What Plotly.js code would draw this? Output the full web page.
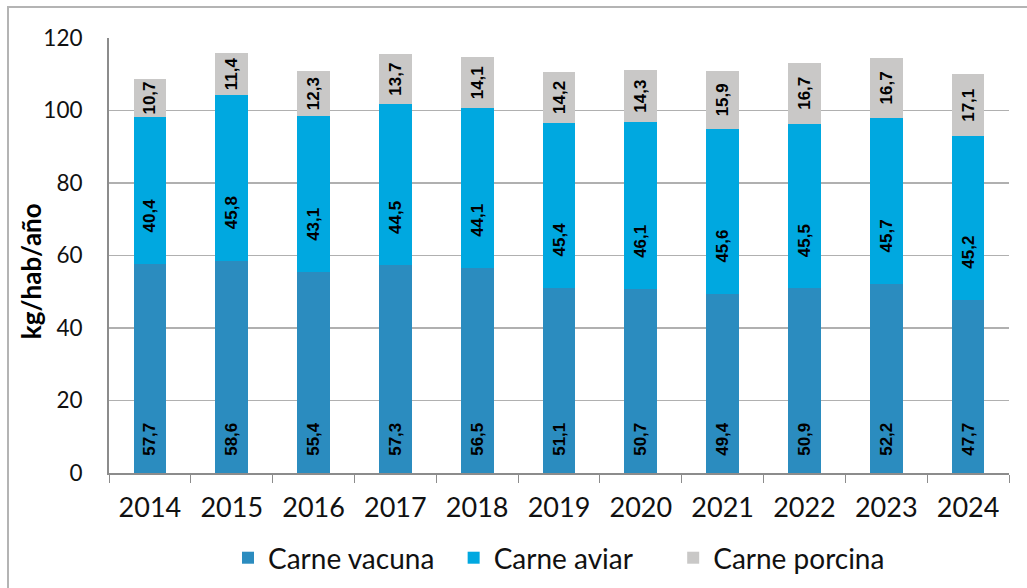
<!DOCTYPE html>
<html>
<head>
<meta charset="utf-8">
<script src="https://cdn.plot.ly/plotly-3.0.1.min.js"></script>
<style>
html,body{margin:0;padding:0;background:#fff;}
#wrap{position:relative;width:1027px;height:588px;overflow:hidden;}
#chart{position:absolute;left:0;top:0;width:1027px;height:588px;}
#frame{position:absolute;left:7px;top:6px;width:1040px;height:600px;border-left:2px solid #b4b4b4;border-top:2px solid #b4b4b4;pointer-events:none;}
</style>
</head>
<body>
<div id="wrap"><div id="chart"></div><div id="frame"></div></div>
<script>
const years = ['2014','2015','2016','2017','2018','2019','2020','2021','2022','2023','2024'];
const vacuna = [57.7, 58.6, 55.4, 57.3, 56.5, 51.1, 50.7, 49.4, 50.9, 52.2, 47.7];
const aviar  = [40.4, 45.8, 43.1, 44.5, 44.1, 45.4, 46.1, 45.6, 45.5, 45.7, 45.2];
const porcina = [10.7, 11.4, 12.3, 13.7, 14.1, 14.2, 14.3, 15.9, 16.7, 16.7, 17.1];
const seriesNames = ['Carne vacuna', 'Carne aviar', 'Carne porcina'];
const seriesColors = ['#2b8cbf', '#00a8e0', '#c9c8c7'];
const yTitle = 'kg/hab/año';

const labelFont = {family: 'Liberation Sans, Arial, sans-serif', size: 17, color: '#000', weight: 'bold'};
const NB = '\u00a0';
function trace(name, vals, color, tmpl, anchor) {
  return {
    type: 'bar', name: name, x: years, y: vals,
    marker: {color: color, line: {width: 0}},
    texttemplate: tmpl, textposition: 'inside', textangle: -90,
    insidetextanchor: anchor, constraintext: 'none',
    insidetextfont: labelFont, hoverinfo: 'x+y+name'
  };
}
const data = [
  trace(seriesNames[0] + NB.repeat(2), vacuna, seriesColors[0], NB.repeat(3) + '%{y:.1f}', 'start'),
  trace(seriesNames[1] + NB.repeat(5), aviar, seriesColors[1], NB.repeat(6) + '%{y:.1f}', 'start'),
  trace(seriesNames[2], porcina, seriesColors[2], '%{y:.1f}', 'middle')
];
const tickFont = {family: 'Lato, sans-serif', color: '#111'};
const layout = {
  width: 1027, height: 588,
  margin: {l: 109, r: 18, t: 38, b: 115},
  paper_bgcolor: 'rgba(0,0,0,0)', plot_bgcolor: '#fff',
  barmode: 'stack', bargap: 0.6,
  separators: ',.',
  showlegend: true,
  legend: {orientation: 'h', x: 0.5, xanchor: 'center', xref: 'paper',
    y: 0.051, yref: 'container', yanchor: 'middle',
    font: {family: 'Lato, sans-serif', size: 28, color: '#111'}, traceorder: 'normal'},
  xaxis: {
    type: 'category', tickfont: Object.assign({size: 27}, tickFont),
    showline: true, linecolor: '#8c8c8c', linewidth: 2,
    ticks: 'outside', tickson: 'boundaries', ticklen: 8, tickcolor: '#8c8c8c', tickwidth: 1,
    ticklabelstandoff: 10, showgrid: false, fixedrange: true, automargin: false
  },
  yaxis: {
    range: [0, 120], dtick: 20, tickfont: Object.assign({size: 22.5}, tickFont),
    showline: true, linecolor: '#8c8c8c', linewidth: 2,
    showgrid: true, gridcolor: '#b0b0b0', gridwidth: 1.5,
    ticks: '', ticklabelstandoff: 20, zeroline: false,
    automargin: false, fixedrange: true
  },
  annotations: [{
    text: yTitle, xref: 'paper', yref: 'paper', x: -0.0867, y: 0.464,
    xanchor: 'center', yanchor: 'middle', textangle: -90, showarrow: false,
    font: {family: 'Lato, sans-serif', size: 26, color: '#000', weight: 'bold'}
  }]
};
Plotly.newPlot('chart', data, layout, {displayModeBar: false, staticPlot: true});
</script>
</body>
</html>
